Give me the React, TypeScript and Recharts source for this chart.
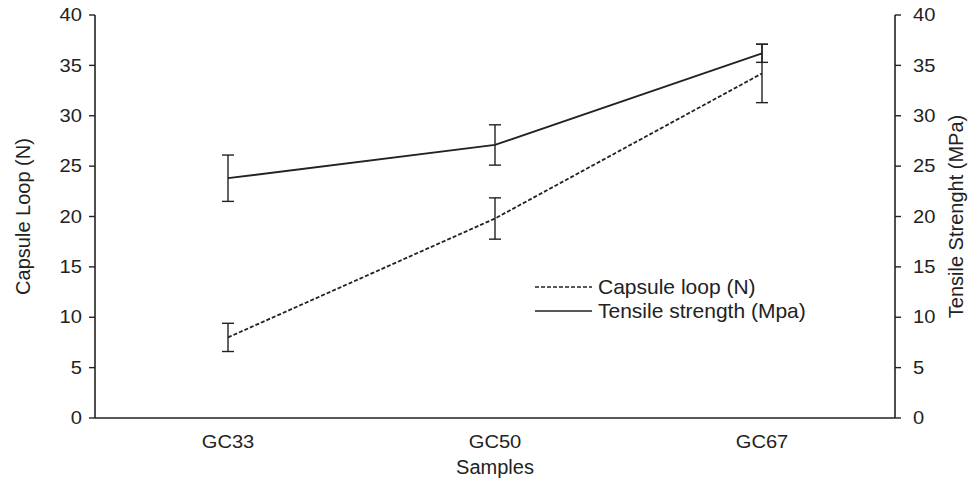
import {
  LineChart,
  Line,
  XAxis,
  YAxis,
  ErrorBar,
} from 'recharts';

const SAMPLES = ['GC33', 'GC50', 'GC67'];
const CAPSULE_LOOP = [8.0, 19.8, 34.2];
const CAPSULE_ERR = [1.4, 2.05, 2.9];
const TENSILE = [23.8, 27.1, 36.2];
const TENSILE_ERR = [2.3, 2.0, 0.9];
const Y_TICKS = [0, 5, 10, 15, 20, 25, 30, 35, 40];

const INK = '#222';
const FONT = '"Liberation Sans", Arial, sans-serif';
// the source image is a bit stretched sideways, so text gets a small horizontal scale
const STRETCH = 1.15;

const data = SAMPLES.map((name, i) => ({
  name,
  capsule: CAPSULE_LOOP[i],
  capsuleErr: CAPSULE_ERR[i],
  tensile: TENSILE[i],
  tensileErr: TENSILE_ERR[i],
}));

function makeTick(anchor: 'start' | 'middle' | 'end', dy: string) {
  return (props: any) => {
    const { x, y, payload } = props;
    return (
      <text
        transform={`translate(${x},${y}) scale(${STRETCH},1)`}
        textAnchor={anchor}
        dy={dy}
        fontSize={17.5}
        fontFamily={FONT}
        fill={INK}
      >
        {payload.value}
      </text>
    );
  };
}

function title(text: string, dx: number, dy: number, rotate: number, fromRight = false) {
  return {
    content: (props: any) => {
      const vb = props.viewBox || {};
      const cx = fromRight ? vb.x + vb.width - dx : vb.x + (dx >= 0 ? dx : vb.width / 2);
      const cy = dy >= 0 ? vb.y + dy : vb.y + vb.height / 2;
      return (
        <text
          transform={`translate(${cx},${cy}) rotate(${rotate})`}
          textAnchor="middle"
          dy="0.35em"
          fontSize={20}
          fontFamily={FONT}
          fill={INK}
        >
          {text}
        </text>
      );
    },
  };
}

// legend sits inside the plot, so it's drawn as an overlay rather than through <Legend>
function LegendBox() {
  const rows: [string | undefined, string][] = [
    ['4 2', 'Capsule loop (N)'],
    [undefined, 'Tensile strength (Mpa)'],
  ];
  return (
    <svg
      width={320}
      height={60}
      style={{ position: 'absolute', left: 520, top: 270 }}
    >
      {rows.map(([dash, label], i) => {
        const y = 17 + i * 24;
        return (
          <g key={label}>
            <line x1={15} y1={y} x2={72} y2={y} stroke={INK} strokeWidth={1.6} strokeDasharray={dash} />
            <text x={78} y={y} dy="0.35em" fontSize={21} fontFamily={FONT} fill={INK}>
              {label}
            </text>
          </g>
        );
      })}
    </svg>
  );
}

export default function App() {
  return (
    <div style={{ position: 'absolute', left: 0, top: 0, width: 978, height: 492, background: '#fff' }}>
      <LineChart
        width={978}
        height={492}
        data={data}
        margin={{ top: 15, right: 0, bottom: 0, left: 0 }}
      >
        <XAxis
          dataKey="name"
          height={74}
          padding={{ left: 133, right: 133 }}
          tickLine={false}
          tickSize={0}
          tickMargin={18}
          tick={makeTick('middle', '0.71em')}
          axisLine={{ stroke: INK, strokeWidth: 1.6 }}
          label={title('Samples', -1, 49, 0)}
        />
        <YAxis
          yAxisId="left"
          width={95}
          domain={[0, 40]}
          ticks={Y_TICKS}
          tickSize={6}
          tickMargin={7}
          tick={makeTick('end', '0.355em')}
          tickLine={{ stroke: INK, strokeWidth: 1.4 }}
          axisLine={{ stroke: INK, strokeWidth: 1.6 }}
          label={title('Capsule Loop (N)', 23, -1, -90)}
        />
        <YAxis
          yAxisId="right"
          orientation="right"
          width={83}
          domain={[0, 40]}
          ticks={Y_TICKS}
          tickSize={6}
          tickMargin={12}
          tick={makeTick('start', '0.355em')}
          tickLine={{ stroke: INK, strokeWidth: 1.4 }}
          axisLine={{ stroke: INK, strokeWidth: 1.6 }}
          label={title('Tensile Strenght (MPa)', 22, -1, -90, true)}
        />
        <Line
          yAxisId="left"
          dataKey="capsule"
          stroke={INK}
          strokeWidth={1.8}
          strokeDasharray="4 2"
          dot={false}
          isAnimationActive={false}
        >
          <ErrorBar dataKey="capsuleErr" width={6} stroke={INK} strokeWidth={1.4} direction="y" />
        </Line>
        <Line
          yAxisId="right"
          dataKey="tensile"
          stroke={INK}
          strokeWidth={1.8}
          dot={false}
          isAnimationActive={false}
        >
          <ErrorBar dataKey="tensileErr" width={6} stroke={INK} strokeWidth={1.4} direction="y" />
        </Line>
      </LineChart>
      <LegendBox />
    </div>
  );
}
